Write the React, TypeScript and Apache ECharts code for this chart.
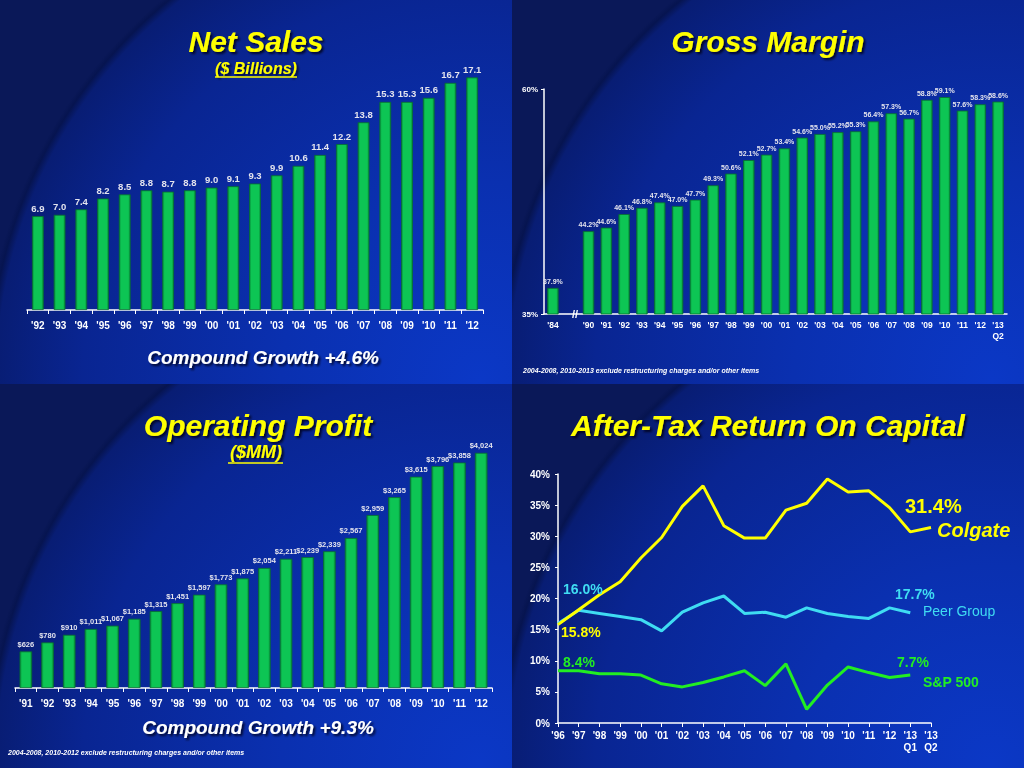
import React, { useEffect, useRef } from "react";
import * as echarts from "echarts";

const FONT = "'Liberation Sans', Arial, sans-serif";

const salesYears = ["'92", "'93", "'94", "'95", "'96", "'97", "'98", "'99", "'00", "'01", "'02", "'03", "'04", "'05", "'06", "'07", "'08", "'09", "'10", "'11", "'12"];
const salesValues = [6.9, 7.0, 7.4, 8.2, 8.5, 8.8, 8.7, 8.8, 9.0, 9.1, 9.3, 9.9, 10.6, 11.4, 12.2, 13.8, 15.3, 15.3, 15.6, 16.7, 17.1];

const marginYears = ["'84", "", "'90", "'91", "'92", "'93", "'94", "'95", "'96", "'97", "'98", "'99", "'00", "'01", "'02", "'03", "'04", "'05", "'06", "'07", "'08", "'09", "'10", "'11", "'12", "'13\nQ2"];
const marginValues = [37.9, null, 44.2, 44.6, 46.1, 46.8, 47.4, 47.0, 47.7, 49.3, 50.6, 52.1, 52.7, 53.4, 54.6, 55.0, 55.2, 55.3, 56.4, 57.3, 56.7, 58.8, 59.1, 57.6, 58.3, 58.6];

const profitYears = ["'91", "'92", "'93", "'94", "'95", "'96", "'97", "'98", "'99", "'00", "'01", "'02", "'03", "'04", "'05", "'06", "'07", "'08", "'09", "'10", "'11", "'12"];
const profitValues = [626, 780, 910, 1011, 1067, 1185, 1315, 1451, 1597, 1773, 1875, 2054, 2211, 2239, 2339, 2567, 2959, 3265, 3615, 3796, 3858, 4024];

const rocYears = ["'96", "'97", "'98", "'99", "'00", "'01", "'02", "'03", "'04", "'05", "'06", "'07", "'08", "'09", "'10", "'11", "'12", "'13\nQ1", "'13\nQ2"];
const colgateRoc = [15.8, 18.2, 20.6, 22.7, 26.5, 29.8, 34.8, 38.1, 31.7, 29.7, 29.7, 34.2, 35.3, 39.2, 37.1, 37.3, 34.6, 30.7, 31.4];
const peerRoc = [16.0, 18.1, 17.6, 17.1, 16.6, 14.8, 17.8, 19.3, 20.4, 17.6, 17.8, 17.0, 18.5, 17.6, 17.1, 16.8, 18.5, 17.7];
const spRoc = [8.4, 8.4, 7.9, 7.9, 7.7, 6.3, 5.8, 6.5, 7.4, 8.4, 6.0, 9.5, 2.2, 6.1, 9.0, 8.1, 7.3, 7.7];

const YELLOW = "#ffff00";
const CYAN = "#3fdcf2";
const GREEN_LINE = "#22ee22";
const LABEL = "#e4e4ee";

const barFill = {
  type: "linear", x: 0, y: 0, x2: 1, y2: 0,
  colorStops: [
    { offset: 0, color: "#08903c" },
    { offset: 0.18, color: "#0dc554" },
    { offset: 0.82, color: "#0dc554" },
    { offset: 1, color: "#08903c" },
  ],
};

function background(px: number, py: number) {
  return {
    type: "rect",
    silent: true,
    z: -10,
    shape: { x: px, y: py, width: 512, height: 384 },
    style: {
      fill: {
        type: "radial", x: px + 480, y: py + 380, r: 496, global: true,
        colorStops: [
          { offset: 0, color: "#0b38c6" },
          { offset: 0.4, color: "#0a30b0" },
          { offset: 0.8, color: "#092592" },
          { offset: 0.975, color: "#081d74" },
          { offset: 0.99, color: "#061450" },
          { offset: 1, color: "#0a1858" },
        ],
      },
    },
  };
}

function txt(x: number, y: number, text: string, size: number, color: string, opts: any = {}) {
  const style: any = {
    text,
    fill: color,
    fontFamily: FONT,
    fontSize: size,
    fontWeight: opts.weight || "bold",
    fontStyle: opts.italic ? "italic" : "normal",
    align: opts.align || "left",
    verticalAlign: "middle",
  };
  if (opts.shadow) {
    style.textShadowColor = "rgba(0,0,20,0.85)";
    style.textShadowOffsetX = 2;
    style.textShadowOffsetY = 2;
    style.textShadowBlur = 2;
  }
  return { type: "text", silent: true, z: 100, x, y, style };
}

function uline(x1: number, x2: number, y: number) {
  return { type: "line", silent: true, z: 100, shape: { x1, y1: y, x2, y2: y }, style: { stroke: YELLOW, lineWidth: 1.5 } };
}

const axisCommon = (margin: number, size: number) => ({
  axisLine: { show: true, lineStyle: { color: "#ffffff", width: 1.5 } },
  axisTick: { show: true, length: 4, lineStyle: { color: "#ffffff", width: 1 } },
  axisLabel: { color: "#ffffff", fontFamily: FONT, fontWeight: "bold", fontSize: size, margin, interval: 0, lineHeight: size + 2 },
  splitLine: { show: false },
});

export default function App() {
  const ref = useRef<HTMLDivElement>(null);
  useEffect(() => {
    if (!ref.current) return;
    const chart = echarts.init(ref.current, undefined, { renderer: "svg" });
    const option: any = {
      animation: false,
      backgroundColor: "transparent",
      grid: [
        { left: 27, top: 38, width: 456, height: 272 },
        { left: 544, top: 89, width: 463, height: 225 },
        { left: 15, top: 425, width: 477, height: 263 },
        { left: 558, top: 474, width: 373, height: 249 },
      ],
      xAxis: [
        { type: "category", gridIndex: 0, data: salesYears, ...axisCommon(9, 10) },
        { type: "category", gridIndex: 1, data: marginYears, ...axisCommon(6, 8.5), axisTick: { show: false } },
        { type: "category", gridIndex: 2, data: profitYears, ...axisCommon(9, 10) },
        { type: "category", gridIndex: 3, data: rocYears, boundaryGap: false, ...axisCommon(6, 10) },
      ],
      yAxis: [
        { type: "value", gridIndex: 0, min: 0, max: 20, show: false, splitLine: { show: false } },
        {
          type: "value", gridIndex: 1, min: 35, max: 60, interval: 25,
          ...axisCommon(6, 8),
          axisTick: { show: true, length: 3, lineStyle: { color: "#ffffff" } },
          axisLabel: { color: "#ffffff", fontFamily: FONT, fontWeight: "bold", fontSize: 8, margin: 6, formatter: "{value}%" },
        },
        { type: "value", gridIndex: 2, min: 0, max: 4500, show: false, splitLine: { show: false } },
        {
          type: "value", gridIndex: 3, min: 0, max: 40, interval: 5,
          ...axisCommon(8, 10),
          axisTick: { show: true, length: 3, lineStyle: { color: "#ffffff" } },
          axisLabel: { color: "#ffffff", fontFamily: FONT, fontWeight: "bold", fontSize: 10, margin: 8, formatter: "{value}%" },
        },
      ],
      series: [
        {
          type: "bar", xAxisIndex: 0, yAxisIndex: 0, data: salesValues, barWidth: "54%",
          itemStyle: { color: barFill, borderColor: "#06702e", borderWidth: 0.8 },
          label: { show: true, position: "top", distance: 3, color: LABEL, fontFamily: FONT, fontWeight: "bold", fontSize: 9.5, formatter: (p: any) => Number(p.value).toFixed(1) },
        },
        {
          type: "bar", xAxisIndex: 1, yAxisIndex: 1, data: marginValues, barWidth: "64%",
          itemStyle: { color: barFill, borderColor: "#06702e", borderWidth: 0.8 },
          label: { show: true, position: "top", distance: 3, color: LABEL, fontFamily: FONT, fontWeight: "bold", fontSize: 7, formatter: (p: any) => Number(p.value).toFixed(1) + "%" },
        },
        {
          type: "bar", xAxisIndex: 2, yAxisIndex: 2, data: profitValues, barWidth: "58%",
          itemStyle: { color: barFill, borderColor: "#06702e", borderWidth: 0.8 },
          label: { show: true, position: "top", distance: 3, color: LABEL, fontFamily: FONT, fontWeight: "bold", fontSize: 7.5, formatter: (p: any) => "$" + Number(p.value).toLocaleString("en-US") },
        },
        { type: "line", name: "Colgate", xAxisIndex: 3, yAxisIndex: 3, data: colgateRoc, symbol: "none", lineStyle: { color: YELLOW, width: 3 }, z: 5 },
        { type: "line", name: "Peer Group", xAxisIndex: 3, yAxisIndex: 3, data: peerRoc, symbol: "none", lineStyle: { color: CYAN, width: 3 }, z: 4 },
        { type: "line", name: "S&P 500", xAxisIndex: 3, yAxisIndex: 3, data: spRoc, symbol: "none", lineStyle: { color: GREEN_LINE, width: 3 }, z: 4 },
      ],
      graphic: [
        background(0, 0), background(512, 0), background(0, 384), background(512, 384),
        txt(256, 41, "Net Sales", 30, YELLOW, { italic: true, align: "center", shadow: true }),
        txt(256, 68, "($ Billions)", 16, YELLOW, { italic: true, align: "center", shadow: true }),
        uline(215, 297, 77),
        txt(263, 357, "Compound Growth +4.6%", 19, "#ffffff", { italic: true, align: "center", shadow: true }),
        txt(768, 41, "Gross Margin", 30, YELLOW, { italic: true, align: "center", shadow: true }),
        txt(575, 314, "//", 11, "#ffffff", { align: "center" }),
        txt(523, 370, "2004-2008, 2010-2013 exclude restructuring charges and/or other items", 7, "#ffffff", { italic: true }),
        txt(258, 425, "Operating Profit", 30, YELLOW, { italic: true, align: "center", shadow: true }),
        txt(256, 452, "($MM)", 18, YELLOW, { italic: true, align: "center", shadow: true }),
        uline(228, 283, 463),
        txt(258, 727, "Compound Growth +9.3%", 19, "#ffffff", { italic: true, align: "center", shadow: true }),
        txt(8, 752, "2004-2008, 2010-2012 exclude restructuring charges and/or other items", 7, "#ffffff", { italic: true }),
        txt(768, 425, "After-Tax Return On Capital", 30, YELLOW, { italic: true, align: "center", shadow: true }),
        txt(563, 589, "16.0%", 14, CYAN),
        txt(561, 632, "15.8%", 14, YELLOW),
        txt(563, 662, "8.4%", 14, GREEN_LINE),
        txt(895, 594, "17.7%", 14, CYAN),
        txt(923, 611, "Peer Group", 14, CYAN, { weight: "normal" }),
        txt(905, 506, "31.4%", 20, YELLOW),
        txt(937, 530, "Colgate", 20, YELLOW, { italic: true }),
        txt(897, 662, "7.7%", 14, GREEN_LINE),
        txt(923, 682, "S&P 500", 14, GREEN_LINE),
      ],
    };
    chart.setOption(option);
    return () => chart.dispose();
  }, []);
  return <div ref={ref} style={{ position: "fixed", left: 0, top: 0, width: 1024, height: 768 }} />;
}
